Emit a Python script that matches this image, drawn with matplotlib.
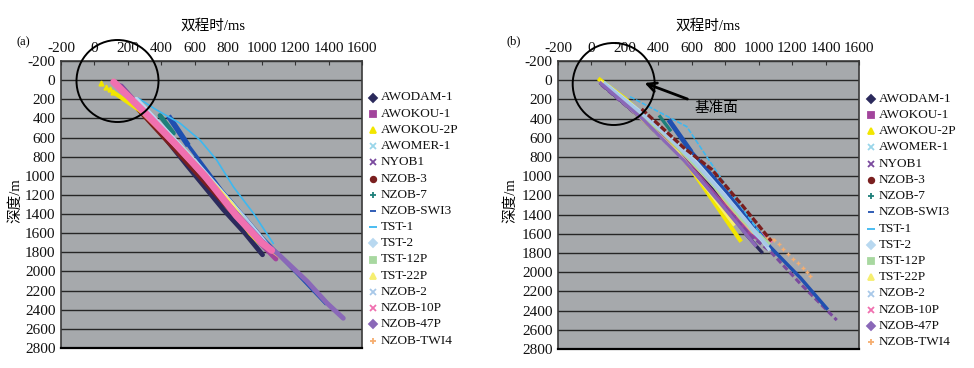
import matplotlib
matplotlib.use('Agg')
import matplotlib.pyplot as plt
from matplotlib.lines import Line2D
from matplotlib.patches import Ellipse

plt.rcParams['font.family'] = ['Liberation Serif', 'Noto Sans CJK SC', 'DejaVu Sans']
plt.rcParams['axes.unicode_minus'] = False

# ---------------- data ----------------
names = ['AWODAM-1', 'AWOKOU-1', 'AWOKOU-2P', 'AWOMER-1', 'NYOB1', 'NZOB-3',
         'NZOB-7', 'NZOB-SWI3', 'TST-1', 'TST-2', 'TST-12P', 'TST-22P',
         'NZOB-2', 'NZOB-10P', 'NZOB-47P', 'NZOB-TWI4']
colors = ['#2B2A5C', '#A2449C', '#F2E600', '#9AD6EA', '#7A4A9E', '#7A1F1F',
          '#1E7F7A', '#2050B0', '#3DB8F0', '#B8D8F0', '#A8D8A0', '#F6EE70',
          '#A8C8E8', '#F070B0', '#8A68B8', '#F6AE70']
markers = ['D', 's', '^', 'x', 'x', 'o', '+', '_', '_', 'D', 's', '^',
           'x', 'x', 'D', '+']

x_ticks = list(range(-200, 1601, 200))
y_ticks = list(range(-200, 2801, 200))

# panel (a): two-way time (ms) / depth (m)
a_t_awodam1 = [150, 320, 560, 771, 900, 1005]
a_d_awodam1 = [60, 380, 905, 1353, 1600, 1825]
a_t_awokou1 = [130, 330, 500, 700, 930, 990, 1085]
a_d_awokou1 = [30, 390, 690, 1090, 1566, 1700, 1870]
a_t_awokou2p = [37, 67, 93, 111, 340, 540, 740, 930, 985]
a_d_awokou2p = [33, 68, 96, 124, 400, 760, 1150, 1600, 1700]
a_t_awomer1 = [180, 450, 750, 1040]
a_d_awomer1 = [150, 640, 1250, 1740]
a_t_nyob1 = [160, 400, 700, 900, 1040]
a_d_nyob1 = [60, 530, 1110, 1500, 1760]
a_t_nzob3 = [260, 600, 950]
a_d_nzob3 = [300, 950, 1620]
a_t_nzob7 = [392, 472]
a_d_nzob7 = [370, 555]
a_t_nzobswi3 = [452, 552, 760, 1000, 1200, 1380]
a_d_nzobswi3 = [399, 660, 1150, 1640, 2000, 2330]
a_t_tst1 = [262, 372, 512, 631, 731, 830, 950, 1069]
a_d_tst1 = [190, 312, 451, 626, 835, 1113, 1390, 1706]
a_t_tst2 = [250, 600, 900, 1040]
a_d_tst2 = [200, 850, 1450, 1740]
a_t_tst12p = [300, 650, 960]
a_d_tst12p = [330, 990, 1620]
a_t_tst22p = [200, 520, 820, 960]
a_d_tst22p = [180, 720, 1300, 1640]
a_t_nzob2 = [220, 560, 860, 1030]
a_d_nzob2 = [200, 800, 1380, 1740]
a_t_nzob10p = [115, 320, 480, 660, 850, 1000, 1060]
a_d_nzob10p = [20, 370, 660, 1000, 1420, 1700, 1780]
a_t_nzob47p = [600, 800, 1000, 1100, 1270, 1390, 1488]
a_d_nzob47p = [900, 1300, 1680, 1820, 2100, 2330, 2489]
a_t_nzobtwi4 = [113, 300, 480, 660, 850, 1020, 1150, 1269]
a_d_nzobtwi4 = [0, 370, 680, 1020, 1420, 1740, 1900, 2089]

# panel (b): after datum correction
b_t_awodam1 = [60, 300, 520, 720, 928, 1018]
b_d_awodam1 = [40, 400, 760, 1130, 1613, 1790]
b_t_awokou1 = [70, 330, 560, 760, 950, 1050]
b_d_awokou1 = [40, 430, 830, 1230, 1610, 1700]
b_t_awokou2p = [50, 200, 330, 470, 600, 711, 888]
b_d_awokou2p = [-5, 190, 400, 623, 936, 1214, 1665]
b_t_awomer1 = [80, 350, 580, 780, 980, 1050]
b_d_awomer1 = [30, 420, 800, 1190, 1600, 1720]
b_t_nyob1 = [60, 330, 560, 760, 950, 1068, 1247, 1467]
b_d_nyob1 = [50, 450, 840, 1250, 1620, 1780, 2116, 2499]
b_t_nzob3 = [300, 550, 720, 900, 1076]
b_d_nzob3 = [300, 700, 930, 1300, 1676]
b_t_nzob7 = [410, 470]
b_d_nzob7 = [380, 519]
b_t_nzobswi3 = [470, 589, 800, 1000, 1068, 1250, 1407]
b_d_nzobswi3 = [432, 727, 1150, 1580, 1735, 2060, 2377]
b_t_tst1 = [231, 570, 769, 950, 1050]
b_d_tst1 = [172, 484, 1005, 1450, 1700]
b_t_tst2 = [100, 360, 600, 800, 1000, 1060]
b_d_tst2 = [60, 420, 800, 1200, 1620, 1760]
b_t_tst12p = [200, 450, 700, 900, 1060]
b_d_tst12p = [230, 580, 1030, 1450, 1700]
b_t_tst22p = [60, 300, 520, 700, 850]
b_d_tst22p = [20, 400, 760, 1150, 1500]
b_t_nzob2 = [80, 380, 620, 820, 1000, 1050]
b_d_nzob2 = [40, 460, 860, 1250, 1620, 1720]
b_t_nzob10p = [70, 360, 600, 800, 1000, 1075]
b_d_nzob10p = [20, 420, 800, 1200, 1580, 1680]
b_t_nzob47p = [55, 310, 550, 750, 980]
b_d_nzob47p = [30, 410, 830, 1240, 1720]
b_t_nzobtwi4 = [90, 340, 580, 780, 980, 1092, 1124, 1148, 1178, 1204, 1238, 1268, 1292, 1308]
b_d_nzobtwi4 = [40, 440, 840, 1230, 1620, 1665, 1710, 1762, 1811, 1863, 1908, 1957, 1999, 2040]

A_T = [a_t_awodam1, a_t_awokou1, a_t_awokou2p, a_t_awomer1, a_t_nyob1, a_t_nzob3,
       a_t_nzob7, a_t_nzobswi3, a_t_tst1, a_t_tst2, a_t_tst12p, a_t_tst22p,
       a_t_nzob2, a_t_nzob10p, a_t_nzob47p, a_t_nzobtwi4]
A_D = [a_d_awodam1, a_d_awokou1, a_d_awokou2p, a_d_awomer1, a_d_nyob1, a_d_nzob3,
       a_d_nzob7, a_d_nzobswi3, a_d_tst1, a_d_tst2, a_d_tst12p, a_d_tst22p,
       a_d_nzob2, a_d_nzob10p, a_d_nzob47p, a_d_nzobtwi4]
B_T = [b_t_awodam1, b_t_awokou1, b_t_awokou2p, b_t_awomer1, b_t_nyob1, b_t_nzob3,
       b_t_nzob7, b_t_nzobswi3, b_t_tst1, b_t_tst2, b_t_tst12p, b_t_tst22p,
       b_t_nzob2, b_t_nzob10p, b_t_nzob47p, b_t_nzobtwi4]
B_D = [b_d_awodam1, b_d_awokou1, b_d_awokou2p, b_d_awomer1, b_d_nyob1, b_d_nzob3,
       b_d_nzob7, b_d_nzobswi3, b_d_tst1, b_d_tst2, b_d_tst12p, b_d_tst22p,
       b_d_nzob2, b_d_nzob10p, b_d_nzob47p, b_d_nzobtwi4]

# ---------------- figure ----------------
W, H = 974, 368
fig = plt.figure(figsize=(W / 100, H / 100), dpi=100)


def fx(px):
    return px / W


def fy(py):
    return 1 - py / H


axA = fig.add_axes([fx(61), fy(348), 301 / W, 287 / H])
axB = fig.add_axes([fx(558), fy(349), 301 / W, 288 / H])

for ax in (axA, axB):
    ax.set_facecolor('#A6A9AC')
    ax.set_xlim(-200, 1600)
    ax.set_ylim(2800, -200)
    ax.set_xticks(x_ticks)
    ax.set_yticks(y_ticks)
    ax.xaxis.tick_top()
    ax.tick_params(axis='x', direction='in', length=3, pad=4, labelsize=11,
                   color='#333333', labelcolor='#111111')
    ax.tick_params(axis='y', length=0, pad=4, labelsize=11, labelcolor='#111111')
    ax.grid(axis='y', color='#262626', lw=1.0)
    ax.grid(axis='x', visible=False)
    ax.set_axisbelow(True)
    for s in ('left', 'right', 'top'):
        ax.spines[s].set_color('#3a3a3a')
        ax.spines[s].set_linewidth(1.2)
    ax.spines['bottom'].set_color('black')
    ax.spines['bottom'].set_linewidth(1.6)

# panel (a) curves
za = {'NZOB-10P': 5, 'NZOB-TWI4': 4.6, 'AWOKOU-1': 4.4, 'NZOB-47P': 4.8,
      'AWOKOU-2P': 3.2, 'TST-22P': 3.1}
for i, (t, d) in enumerate(zip(A_T, A_D)):
    c = colors[i]
    z = za.get(names[i], 3)
    if names[i] == 'AWOKOU-2P':
        axA.plot(t[:4], d[:4], ls='none', marker='^', ms=3.5, color=c, zorder=6)
        axA.plot(t[3:], d[3:], color=c, lw=3, solid_capstyle='round', zorder=z)
    elif names[i] == 'NZOB-SWI3':
        axA.plot(t[:2], d[:2], color=c, lw=4, zorder=z)
        axA.plot(t[1:], d[1:], color=c, lw=2.5, zorder=z)
    elif names[i] in ('TST-1', 'AWOMER-1'):
        axA.plot(t, d, color=c, lw=1.2, zorder=z)
    elif names[i] == 'NZOB-TWI4':
        axA.plot(t, d, color=c, lw=2.2, solid_capstyle='round', zorder=z)
    elif names[i] == 'NZOB-10P':
        axA.plot(t, d, color=c, lw=5, solid_capstyle='round', zorder=z)
    else:
        axA.plot(t, d, color=c, lw=3.5, solid_capstyle='round', zorder=z)

# panel (b) curves
zb = {'NZOB-3': 6, 'NZOB-47P': 5, 'AWOKOU-2P': 2.8, 'NZOB-10P': 2.5, 'NZOB-TWI4': 2.5}
for i, (t, d) in enumerate(zip(B_T, B_D)):
    c = colors[i]
    z = zb.get(names[i], 3)
    if names[i] == 'NZOB-TWI4':
        axB.plot(t[:6], d[:6], color=c, lw=1.8, zorder=z)
        axB.plot(t[5:], d[5:], ls='none', marker='+', ms=3, mew=1.0, color=c, zorder=z)
    elif names[i] == 'NZOB-SWI3':
        axB.plot(t[:2], d[:2], color=c, lw=3.5, zorder=z)
        axB.plot(t[1:], d[1:], color=c, lw=2.5, zorder=z)
    elif names[i] == 'TST-1':
        axB.plot(t, d, color=c, lw=1.2, ls=(0, (3, 1)), zorder=z)
    elif names[i] == 'NYOB1':
        axB.plot(t, d, color=c, lw=2.2, ls=(0, (2, 1)), zorder=z)
    elif names[i] == 'NZOB-3':
        axB.plot(t, d, color=c, lw=2.4, ls=(0, (2, 0.6)), zorder=z)
    elif names[i] == 'NZOB-10P':
        axB.plot(t, d, color=c, lw=1.8, zorder=z)
    elif names[i] == 'AWOKOU-2P':
        axB.plot(t, d, color=c, lw=3, zorder=z)
    else:
        axB.plot(t, d, color=c, lw=2.4, zorder=z)

# legends (drawn as marker + label, like the source)
for (mx, tx, y0, dy) in ((373, 381, 97.5, 16.2), (870.5, 879, 98.5, 16.25)):
    for i, nm in enumerate(names):
        y = y0 + i * dy
        ms = 6 if markers[i] == '_' and nm == 'TST-1' else 4
        fig.add_artist(Line2D([fx(mx)], [fy(y)], transform=fig.transFigure,
                              marker=markers[i], color=colors[i], ms=ms,
                              mew=1.3, ls='none'))
        fig.text(fx(tx), fy(y), nm, ha='left', va='center', fontsize=9.5,
                 color='#111111')

# axis titles
for cx in (213, 708):
    fig.text(fx(cx), fy(26), '双程时/ms', ha='center', va='center', fontsize=10.5)
for cx in (15, 510):
    fig.text(fx(cx), fy(201), '深度/m', ha='center', va='center', fontsize=10.5,
             rotation=90)
fig.text(fx(23), fy(42), '(a)', ha='center', va='center', fontsize=9)
fig.text(fx(514), fy(41), '(b)', ha='center', va='center', fontsize=9)

# datum circles
for (cx, cy) in ((117.5, 81), (613.7, 84)):
    fig.add_artist(Ellipse((fx(cx), fy(cy)), 82 / W, 82 / H, transform=fig.transFigure,
                           fill=False, ec='black', lw=1.4))

axB.annotate('', xy=(642, H - 82), xycoords='figure pixels',
             xytext=(690, H - 100), textcoords='figure pixels',
             arrowprops=dict(arrowstyle='->', lw=2, color='black', mutation_scale=16),
             annotation_clip=False)
fig.text(fx(695), fy(108), '基准面', ha='left', va='center', fontsize=10.5)

fig.savefig('out.png', dpi=100)
